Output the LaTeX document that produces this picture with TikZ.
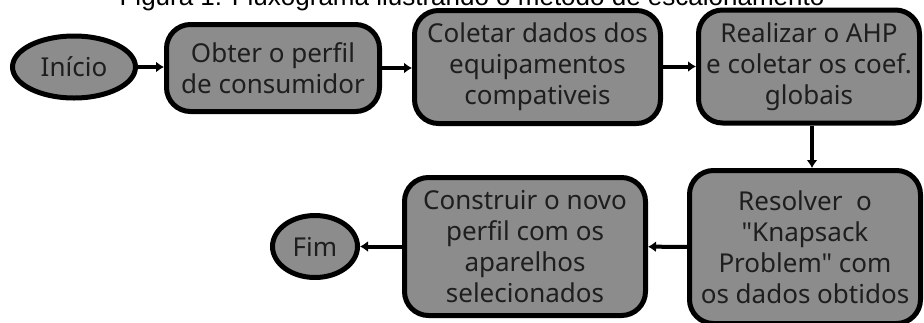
\documentclass[tikz,border=0pt]{standalone}
\usepackage{fontspec}
\setmainfont{Noto Sans}[Ligatures=TeXOff]
\newfontfamily\titlefont{Liberation Sans}
\usetikzlibrary{arrows.meta,shapes.geometric}
\definecolor{boxfill}{RGB}{140,140,140}
\definecolor{boxtext}{RGB}{30,30,30}
\tikzset{
  flowbox/.style={draw=black, line width=5pt, fill=boxfill, rounded corners=24pt,
    align=center, text=boxtext, inner sep=0pt,
    font=\fontsize{26}{31}\selectfont},
  terminal/.style={draw=black, line width=5pt, fill=boxfill, ellipse,
    align=center, text=boxtext, inner sep=0pt,
    font=\fontsize{26}{31}\selectfont},
  flowarrow/.style={line width=4pt, -{Latex[length=8pt,width=11pt]}}
}
\begin{document}
\begin{tikzpicture}[x=1pt,y=-1pt]
\useasboundingbox (0,0) rectangle (924,322);
\clip (0,0) rectangle (924,322);
\node[anchor=base, font=\titlefont\fontsize{26}{30}\selectfont] (title) at (472,5)
  {Figura 1: Fluxograma ilustrando o método de escalonamento};
\node[terminal, minimum width=123pt, minimum height=62pt] (inicio) at (74,67) {Início};
\node[flowbox, minimum width=213pt, minimum height=87pt] (obter) at (273,68)
  {Obter o perfil\\de consumidor};
\node[flowbox, minimum width=246pt, minimum height=113pt] (coletar) at (537.5,67)
  {Coletar dados dos\\equipamentos\\compativeis};
\node[flowbox, minimum width=221pt, minimum height=113pt] (realizar) at (809,66.5)
  {Realizar o AHP\\e coletar os coef.\\globais};
\node[flowbox, minimum width=231pt, minimum height=153pt] (resolver) at (805,247)
  {Resolver\ \ o\\"Knapsack\\Problem" com\\os dados obtidos};
\node[flowbox, minimum width=241pt, minimum height=138pt] (construir) at (525,246.5)
  {Construir o novo\\perfil com os\\aparelhos\\selecionados};
\node[terminal, minimum width=85pt, minimum height=62pt] (fim) at (315,246.5) {Fim};
\draw[flowarrow] (inicio) -- (obter.west |- inicio);
\draw[flowarrow] (obter) -- (coletar.west |- obter);
\draw[flowarrow] (coletar.east |- realizar) -- (realizar);
\draw[flowarrow] ([xshift=3pt]realizar.south) -- ([xshift=3pt]realizar.south |- resolver.north);
\draw[flowarrow] (resolver) -- (construir);
\draw[flowarrow] (construir) -- (fim);
\end{tikzpicture}
\end{document}
